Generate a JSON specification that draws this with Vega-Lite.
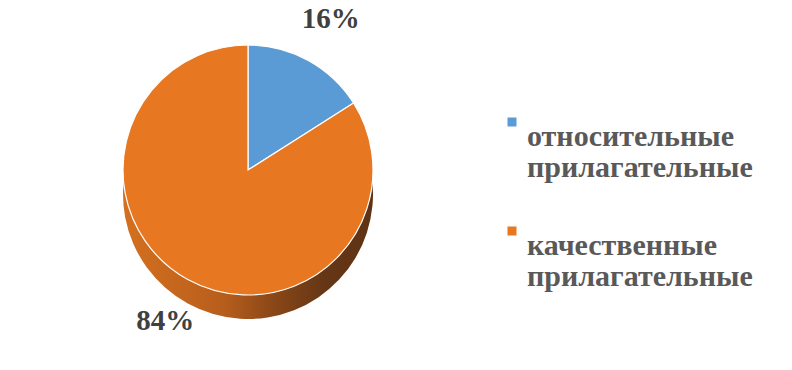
{
  "$schema": "https://vega.github.io/schema/vega-lite/v6.json",
  "width": 496,
  "height": 340,
  "padding": 0,
  "background": "white",
  "config": {
    "view": {"stroke": null},
    "style": {"guide-label": {"lineHeight": 31}}
  },
  "data": {
    "values": [
      {"category": "относительные прилагательные", "share": 16, "label": "16%"},
      {"category": "качественные прилагательные", "share": 84, "label": "84%"}
    ]
  },
  "encoding": {
    "theta": {"field": "share", "type": "quantitative", "stack": true},
    "order": {"field": "category", "sort": "descending"}
  },
  "layer": [
    {
      "mark": {
        "type": "arc",
        "radius": 125,
        "yOffset": 24,
        "color": {
          "gradient": "linear",
          "x1": 0, "y1": 0, "x2": 1, "y2": 0,
          "stops": [
            {"offset": 0, "color": "#D4701F"},
            {"offset": 0.4, "color": "#B85E1C"},
            {"offset": 0.6, "color": "#8A4718"},
            {"offset": 0.8, "color": "#663716"},
            {"offset": 1, "color": "#5E3214"}
          ]
        }
      }
    },
    {
      "mark": {"type": "arc", "radius": 125, "stroke": "white", "strokeWidth": 1.2},
      "encoding": {
        "color": {
          "field": "category",
          "type": "nominal",
          "scale": {
            "domain": ["относительные прилагательные", "качественные прилагательные"],
            "range": ["#5B9BD5", "#E87722"]
          },
          "legend": {
            "title": null,
            "orient": "none",
            "legendX": 497,
            "legendY": 107,
            "symbolType": "square",
            "symbolSize": 81,
            "symbolStrokeWidth": 0,
            "labelFont": "Liberation Serif",
            "labelFontWeight": "bold",
            "labelFontSize": 30,
            "labelColor": "#595959",
            "labelOffset": 0,
            "labelLimit": 400,
            "labelBaseline": "top",
            "rowPadding": 33,
            "padding": 0,
            "labelExpr": "split(datum.label, ' ')",
            "encode": {
              "labels": {
                "update": {
                  "lineHeight": {"value": 31},
                  "dy": {"value": -13}
                }
              }
            }
          }
        }
      }
    },
    {
      "mark": {
        "type": "text",
        "radius": 172,
        "font": "Liberation Serif",
        "fontWeight": "bold",
        "fontSize": 29,
        "color": "#404040"
      },
      "encoding": {
        "text": {"field": "label", "type": "nominal"}
      }
    }
  ]
}
